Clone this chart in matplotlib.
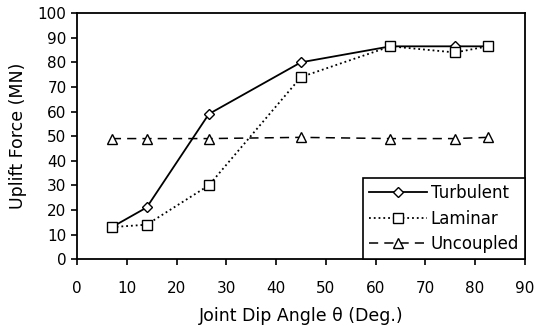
import matplotlib.pyplot as plt

plt.rcParams['font.family'] = ['DejaVu Sans']

# dip angle (deg) and uplift force (MN)
angle = [7, 14, 26.5, 45, 63, 76, 82.5]
turbulent = [13, 21, 59, 80, 86.5, 86.5, 86.5]
laminar = [13, 14, 30, 74, 86.5, 84, 86.5]
uncoupled = [49, 49, 49, 49.5, 49, 49, 49.5]

fig = plt.figure(figsize=(5.35, 3.28), dpi=100)
ax = fig.add_axes([0.144, 0.21, 0.837, 0.75])

ax.plot(angle, turbulent, 'k-', marker='D', ms=5, mfc='white', mec='black',
        lw=1.3, label='Turbulent')
ax.plot(angle, laminar, 'k:', marker='s', ms=6.5, mfc='white', mec='black',
        lw=1.3, label='Laminar')
ax.plot(angle, uncoupled, 'k', ls=(0, (6, 4)), marker='^', ms=6.5, mfc='white',
        mec='black', lw=1.1, label='Uncoupled')

ax.set_xlim(0, 90)
ax.set_ylim(0, 100)
ax.set_xticks(range(0, 91, 10))
ax.set_yticks(range(0, 101, 10))
ax.tick_params(labelsize=11, direction='out', length=4, width=1.2)
ax.tick_params(axis='x', pad=12)
for s in ax.spines.values():
    s.set_linewidth(1.3)

ax.set_xlabel('Joint Dip Angle \u03b8 (Deg.)', fontsize=12.5, labelpad=8)
ax.set_ylabel('Uplift Force (MN)', fontsize=12.5, labelpad=8)

leg = ax.legend(loc='lower right', fontsize=12, fancybox=False, framealpha=1,
                edgecolor='black', borderaxespad=0, handlelength=3.5,
                handletextpad=0.2, borderpad=0.35, labelspacing=0.45)
leg.get_frame().set_linewidth(1.2)

fig.savefig('out.png', dpi=100)
